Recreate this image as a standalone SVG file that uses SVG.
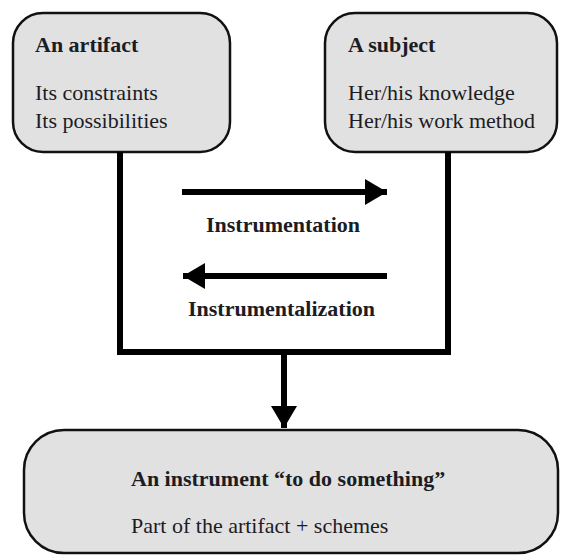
<svg xmlns="http://www.w3.org/2000/svg" width="562" height="556" viewBox="0 0 562 556">
<style>
.box{fill:#e1e1e1;stroke:#111;stroke-width:2.5}
.t{font-family:"Liberation Serif","Times New Roman",serif;font-size:22px;fill:#1c1c24}
.b{font-weight:bold}
.ln{fill:none;stroke:#000;stroke-width:6}
</style>
<defs>
<marker id="ah" markerUnits="userSpaceOnUse" markerWidth="24" markerHeight="26" refX="22" refY="13" orient="auto">
<path d="M0,0 L22,13 L0,26 Z" fill="#000"/>
</marker>
</defs>
<rect width="562" height="556" fill="#fff"/>
<g id="artifact">
<rect class="box" x="13" y="13" width="217" height="139" rx="30"/>
<text class="t b" x="35" y="52">An artifact</text>
<text class="t" x="35" y="100">Its constraints</text>
<text class="t" x="35" y="128">Its possibilities</text>
</g>
<g id="subject">
<rect class="box" x="325" y="13" width="232" height="139" rx="30"/>
<text class="t b" x="348" y="52">A subject</text>
<text class="t" x="348" y="100">Her/his knowledge</text>
<text class="t" x="348" y="128">Her/his work method</text>
</g>
<g id="instrument">
<rect class="box" x="24" y="430" width="534" height="123" rx="40"/>
<text class="t b" x="131" y="486">An instrument “to do something”</text>
<text class="t" x="131" y="533">Part of the artifact + schemes</text>
</g>
<g id="connectors">
<path class="ln" d="M120,152 V352 H448 V152" stroke-linejoin="miter"/>
<line class="ln" x1="182" y1="192" x2="387" y2="192" marker-end="url(#ah)"/>
<line class="ln" x1="387" y1="276" x2="183" y2="276" marker-end="url(#ah)"/>
<line class="ln" x1="284" y1="352" x2="284" y2="428" marker-end="url(#ah)"/>
<text class="t b" x="206" y="232">Instrumentation</text>
<text class="t b" x="188" y="316">Instrumentalization</text>
</g>
</svg>
